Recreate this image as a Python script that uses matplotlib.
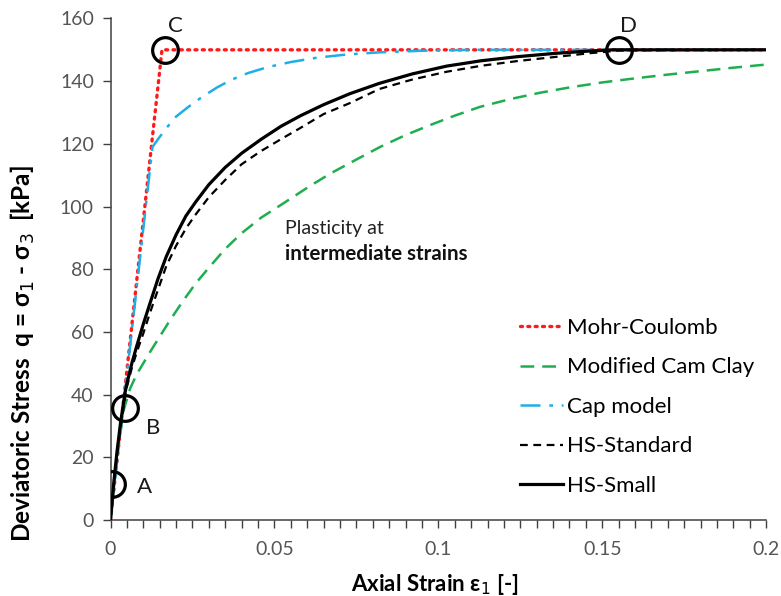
import matplotlib
matplotlib.use("Agg")
import matplotlib.pyplot as plt
from matplotlib.ticker import MultipleLocator

FONT = ['Lato', 'DejaVu Sans']
plt.rcParams['font.family'] = FONT

# ---- data ----
mc_strain = [0.0, 0.0157, 0.2]
mc_stress = [0.0, 150.0, 150.0]

mcc_strain = [0.0, 0.002, 0.004, 0.006, 0.008, 0.010, 0.012, 0.015, 0.018, 0.0222,
              0.026, 0.030, 0.035, 0.040, 0.046, 0.0527, 0.060, 0.067, 0.075, 0.0822,
              0.090, 0.0975, 0.105, 0.1127, 0.122, 0.131, 0.140, 0.150, 0.160, 0.170,
              0.180, 0.190, 0.200]
mcc_stress = [0.0, 20.0, 35.0, 42.0, 46.5, 50.0, 53.5, 58.5, 63.5, 70.0,
              75.5, 80.5, 86.5, 91.5, 96.5, 101.0, 106.0, 110.5, 115.0, 119.0,
              122.8, 126.0, 129.0, 131.8, 134.3, 136.3, 138.0, 139.6, 140.9, 142.1,
              143.2, 144.3, 145.3]

cap_strain = [0.0, 0.0128, 0.0145, 0.017, 0.020, 0.024, 0.028, 0.0325, 0.037, 0.042,
              0.048, 0.055, 0.063, 0.072, 0.082, 0.095, 0.110, 0.200]
cap_stress = [0.0, 119.0, 121.5, 125.0, 128.7, 132.0, 135.0, 138.0, 140.5, 142.6,
              144.5, 146.1, 147.5, 148.5, 149.2, 149.7, 150.0, 150.0]

hss_strain = [0.0, 0.001, 0.002, 0.003, 0.004, 0.005, 0.0065, 0.008, 0.010, 0.012,
              0.0145, 0.017, 0.020, 0.023, 0.026, 0.030, 0.035, 0.040, 0.0456, 0.052,
              0.0578, 0.065, 0.073, 0.082, 0.092, 0.1025, 0.113, 0.124, 0.131, 0.139,
              0.146, 0.1555, 0.200]
hss_stress = [0.0, 11.5, 21.0, 29.0, 36.0, 42.5, 48.5, 53.5, 59.5, 66.0,
              73.5, 81.0, 87.5, 93.0, 97.5, 103.0, 108.5, 113.5, 117.5, 121.5,
              125.0, 129.5, 133.0, 137.5, 140.5, 143.0, 144.9, 146.4, 147.2, 148.1,
              148.9, 149.8, 150.0]

hssm_strain = [0.0, 0.001, 0.002, 0.003, 0.0044, 0.005, 0.0065, 0.008, 0.010, 0.012,
               0.0145, 0.017, 0.020, 0.023, 0.026, 0.030, 0.035, 0.040, 0.046, 0.052,
               0.058, 0.065, 0.073, 0.082, 0.092, 0.1025, 0.113, 0.124, 0.136, 0.146,
               0.153, 0.200]
hssm_stress = [0.0, 12.0, 22.0, 30.5, 40.5, 43.5, 50.0, 55.5, 62.5, 69.0,
               77.0, 84.0, 91.0, 97.0, 101.5, 107.0, 112.5, 117.0, 121.5, 125.6,
               129.0, 132.5, 136.0, 139.3, 142.3, 144.8, 146.5, 147.8, 148.9, 149.6,
               150.0, 150.0]

pt_labels = ['A', 'B', 'C', 'D']
pt_strain = [0.0005, 0.0044, 0.0166, 0.155]
pt_stress = [11.5, 35.7, 150.0, 150.0]

x_ticks = [0, 0.05, 0.1, 0.15, 0.2]
x_ticklabels = ['0', '0.05', '0.1', '0.15', '0.2']
y_ticks = [0, 20, 40, 60, 80, 100, 120, 140, 160]

# ---- figure ----
fig = plt.figure(figsize=(7.81, 5.96), dpi=100)
ax = fig.add_axes([0.1415, 0.1275, 0.8395, 0.8415])

ax.plot(mc_strain, mc_stress, color='#ff1a1a', lw=2.4, ls=(0, (0.6, 1.6)),
        dash_capstyle='round', label='Mohr-Coulomb', zorder=3)
ax.plot(mcc_strain, mcc_stress, color='#1fae4f', lw=1.8, ls=(0, (5.5, 3.2)),
        label='Modified Cam Clay', zorder=3)
ax.plot(cap_strain, cap_stress, color='#1eaee8', lw=1.8, ls=(0, (8, 3.5, 1.5, 3.5)),
        label='Cap model', zorder=3)
ax.plot(hss_strain, hss_stress, color='black', lw=1.6, ls=(0, (3.5, 2.5)),
        label='HS-Standard', zorder=4)
ax.plot(hssm_strain, hssm_stress, color='black', lw=2.3, ls='-',
        label='HS-Small', zorder=5)

ax.plot(pt_strain, pt_stress, ls='none', marker='o', ms=18.5, mfc='none',
        mec='black', mew=2.3, zorder=6)

offsets = {'A': (18, -2), 'B': (15, -14), 'C': (2, 17), 'D': (1, 17)}
for lab, xs, ys in zip(pt_labels, pt_strain, pt_stress):
    dx, dy = offsets[lab]
    ax.annotate(lab, (xs, ys), xytext=(dx, dy), textcoords='offset points',
                fontsize=16, color='#1a1a1a', ha='left', va='center')

ax.text(0.0532, 92.9, 'Plasticity at', fontsize=14, color='#222222', va='center')
ax.text(0.0532, 85.0, 'intermediate strains', fontsize=14.8, fontweight='bold',
        color='#111111', va='center')

ax.set_xlim(0, 0.2)
ax.set_ylim(0, 160)
ax.set_xticks(x_ticks)
ax.set_xticklabels(x_ticklabels)
ax.set_yticks(y_ticks)
ax.xaxis.set_minor_locator(MultipleLocator(0.005))
ax.tick_params(axis='both', which='major', direction='out', length=6, width=1,
               color='#404040', labelsize=14, labelcolor='#555555', pad=6)
ax.tick_params(axis='x', which='minor', direction='out', length=6, width=1, color='#404040')
ax.tick_params(axis='x', which='major', pad=9)

for s in ['top', 'right']:
    ax.spines[s].set_visible(False)
for s in ['left', 'bottom']:
    ax.spines[s].set_color('#404040')
    ax.spines[s].set_linewidth(1.1)

ax.set_xlabel('Axial Strain ε$_1$ [-]', fontsize=16, fontweight='bold')
ax.set_ylabel('Deviatoric Stress  q = σ$_1$ - σ$_3$  [kPa]', fontsize=17.5,
              fontweight='bold')
ax.xaxis.set_label_coords(0.494, -0.103)
ax.yaxis.set_label_coords(-0.112, 0.331)

leg = ax.legend(loc='upper left', bbox_to_anchor=(0.5945, 0.443), frameon=False,
                fontsize=16, handlelength=1.9, handletextpad=0.22, labelspacing=0.88)

fig.savefig('out.png', dpi=100)
